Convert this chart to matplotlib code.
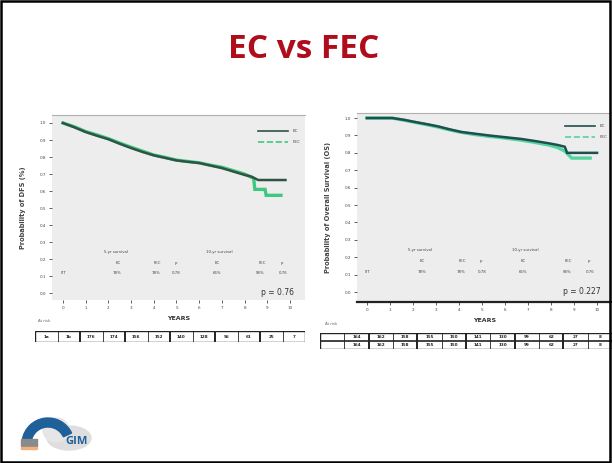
import numpy as np
import matplotlib.pyplot as plt
from matplotlib.patches import Rectangle, Wedge, Ellipse

W, H = 612, 463

# --- data ---
years = list(range(0, 11))
yticks = [0.0, 0.1, 0.2, 0.3, 0.4, 0.5, 0.6, 0.7, 0.8, 0.9, 1.0]

# left panel: disease-free survival
dfs_t_ec = [0, 0.5, 1, 1.5, 2, 2.5, 3, 3.5, 4, 4.5, 5, 5.5, 6, 6.5, 7, 7.5, 8, 8.3, 8.6, 9.0, 9.8]
dfs_s_ec = [1.0, 0.975, 0.947, 0.925, 0.905, 0.878, 0.853, 0.83, 0.81, 0.795, 0.78, 0.772, 0.765, 0.75, 0.735, 0.715, 0.695, 0.685, 0.665, 0.665, 0.665]
dfs_t_fec = [0, 0.5, 1, 1.5, 2, 2.5, 3, 3.5, 4, 4.5, 5, 5.5, 6, 6.5, 7, 7.5, 8, 8.4, 8.45, 8.9, 8.95, 9.6]
dfs_s_fec = [1.0, 0.978, 0.95, 0.93, 0.908, 0.882, 0.858, 0.835, 0.812, 0.798, 0.782, 0.774, 0.766, 0.752, 0.74, 0.72, 0.7, 0.675, 0.61, 0.61, 0.575, 0.575]

# right panel: overall survival
os_t_ec = [0, 1.1, 1.6, 2.1, 2.6, 3.1, 3.6, 4.1, 4.7, 5.3, 6.0, 6.7, 7.3, 7.9, 8.3, 8.6, 8.7, 10.0]
os_s_ec = [1.0, 1.0, 0.99, 0.977, 0.965, 0.952, 0.935, 0.92, 0.91, 0.9, 0.89, 0.88, 0.868, 0.855, 0.845, 0.835, 0.8, 0.8]
os_t_fec = [0, 1.1, 1.6, 2.1, 2.6, 3.1, 3.6, 4.1, 4.7, 5.3, 6.0, 6.7, 7.3, 7.9, 8.3, 8.6, 8.9, 9.7]
os_s_fec = [1.0, 1.0, 0.988, 0.975, 0.962, 0.948, 0.932, 0.918, 0.905, 0.895, 0.885, 0.873, 0.86, 0.845, 0.83, 0.81, 0.77, 0.77]

risk_left = ['1a', '1b', '176', '174', '156', '152', '140', '128', '96', '61', '25', '7']
risk_right = ['', '164', '162', '158', '155', '150', '141', '130', '99', '62', '27', '8']

fig = plt.figure(figsize=(W / 100, H / 100), dpi=100)
fig.patch.set_facecolor('white')


def px_axes(x0, y0, x1, y1, **kw):
    return fig.add_axes([x0 / W, 1 - y1 / H, (x1 - x0) / W, (y1 - y0) / H], **kw)


# border of the slide
fig.add_artist(Rectangle((0.002, 0.003), 0.995, 0.994, transform=fig.transFigure,
                         fill=False, ec='black', lw=1.8))

fig.text(304 / W, 1 - 50 / H, 'EC vs FEC', color='#b00d1c', fontsize=24,
         fontweight='bold', family='Open Sans', ha='center', va='center')


def km_panel(ax, t1, s1, t2, s2, c1, c2, ylabel, ptxt, ylo, yhi, xlo, xhi, bottom_spine):
    ax.set_facecolor('#ededed')
    ax.plot(t2, s2, color=c2, lw=2.4, solid_joinstyle='miter')
    ax.plot(t1, s1, color=c1, lw=1.8, solid_joinstyle='miter')
    ax.set_xlim(xlo, xhi)
    ax.set_ylim(ylo, yhi)
    ax.set_xticks(years)
    ax.set_xticklabels([str(y) for y in years], fontsize=3, color='#444444')
    ax.set_yticks(yticks)
    ax.set_yticklabels(['%.1f' % v for v in yticks], fontsize=3, color='#444444')
    ax.tick_params(length=2, width=0.6, pad=2, colors='#444444')
    for s in ['left', 'right']:
        ax.spines[s].set_visible(False)
    ax.spines['top'].set_color('#b0b0b0')
    ax.spines['top'].set_linewidth(0.8)
    if bottom_spine:
        ax.spines['bottom'].set_color('#222222')
        ax.spines['bottom'].set_linewidth(1.6)
    else:
        ax.spines['bottom'].set_visible(False)
    ax.set_ylabel(ylabel, fontsize=4.8, fontweight='bold', color='#444444', labelpad=10)
    ax.set_xlabel('YEARS', fontsize=4.5, fontweight='bold', color='#333333', labelpad=5)
    # legend
    ax.plot([8.6, 9.9], [0.955, 0.955], color=c1, lw=1.2)
    ax.plot([8.6, 9.9], [0.89, 0.89], color=c2, lw=1.2, ls='--')
    ax.text(10.1, 0.955, 'EC', fontsize=3, va='center', color='#444444')
    ax.text(10.1, 0.89, 'FEC', fontsize=3, va='center', color='#444444')
    # summary table
    fs = 2.8
    ax.text(1.8, 0.235, '5-yr survival', fontsize=fs, color='#444444')
    ax.text(6.3, 0.235, '10-yr survival', fontsize=fs, color='#444444')
    for xx, tx in [(2.3, 'EC'), (4.0, 'FEC'), (4.9, 'p'), (6.7, 'EC'), (8.6, 'FEC'), (9.6, 'p')]:
        ax.text(xx, 0.17, tx, fontsize=fs, color='#444444')
    ax.text(-0.1, 0.11, 'ITT', fontsize=fs, color='#444444')
    for xx, tx in [(2.2, '78%'), (3.9, '78%'), (4.8, '0.78'), (6.6, '66%'), (8.5, '58%'), (9.5, '0.76')]:
        ax.text(xx, 0.11, tx, fontsize=fs, color='#444444')
    ax.text(xhi - 0.5, 0.005, ptxt, fontsize=5.5, ha='right', va='center', color='#333333')


ax1 = px_axes(52, 115, 305, 300)
km_panel(ax1, dfs_t_ec, dfs_s_ec, dfs_t_fec, dfs_s_fec, '#2f5446', '#3ec97e',
         'Probability of DFS (%)', 'p = 0.76', -0.04, 1.047, -0.48, 10.66, False)

ax2 = px_axes(357, 113, 612, 302)
km_panel(ax2, os_t_ec, os_s_ec, os_t_fec, os_s_fec, '#1f4f4f', '#55d4a0',
         'Probability of Overall Survival (OS)', 'p = 0.227', -0.057, 1.029, -0.43, 10.65, True)


def risk_table(x0, y0, x1, y1, labels, nrows):
    ax = px_axes(x0, y0, x1, y1)
    ax.set_xlim(0, len(labels))
    ax.set_ylim(0, nrows)
    ax.axis('off')
    ax.add_patch(Rectangle((0, 0), len(labels), nrows, fill=False, ec='#222222', lw=1.0))
    for r in range(1, nrows):
        ax.axhline(r, color='#222222', lw=1.2)
    for i in range(1, len(labels)):
        ax.axvline(i, color='#222222', lw=1.4 if i % 2 == 0 else 0.6)
    for i, lab in enumerate(labels):
        for r in range(nrows):
            ax.text(i + 0.5, r + 0.45, lab, fontsize=3, ha='center', va='center',
                    color='#222222', fontweight='bold')
    return ax


risk_table(35, 331, 305, 342, risk_left, 1)
fig.text(38 / W, 1 - 322 / H, 'At risk', fontsize=2.8, color='#666666')
risk_table(320, 333, 612, 349, risk_right, 2)
fig.text(325 / W, 1 - 325 / H, 'At risk', fontsize=2.8, color='#666666')

# GIM logo
lax = px_axes(14, 390, 110, 458)
lax.set_xlim(0, 96)
lax.set_ylim(0, 68)
lax.axis('off')
lax.add_patch(Ellipse((55, 20), 44, 24, color='#dedede'))
lax.add_patch(Ellipse((42, 28), 26, 24, color='#e6e6e6'))
lax.add_patch(Wedge((34, 14), 26, 25, 170, width=9, color='#1f5f9a'))
lax.add_patch(Rectangle((7, 12), 16, 7, color='#8a8a8a'))
lax.add_patch(Rectangle((7, 9), 16, 2, color='#f0b080'))
lax.text(63, 16, 'GIM', fontsize=8, fontweight='bold', color='#1f5f9a',
         family='Open Sans', ha='center', va='center')

fig.savefig('out.png', dpi=100, facecolor='white')
